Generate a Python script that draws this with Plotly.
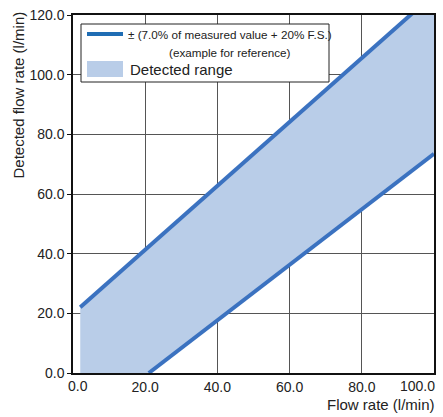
import plotly.graph_objects as go

# Values
upper_x = [2.0, 100.0]
upper_y = [22.0, 127.0]
lower_x = [21.0, 100.0]
lower_y = [0.0, 73.5]
x_ticks = [0, 20, 40, 60, 80, 100]
x_ticklabels = ["0.0", "20.0", "40.0", "60.0", "80.0", "100.0"]
y_ticks = [0, 20, 40, 60, 80, 100, 120]
y_ticklabels = ["0.0", "20.0", "40.0", "60.0", "80.0", "100.0", "120.0"]
legend_line_text = "± (7.0% of measured value + 20% F.S.)"
legend_note_text = "(example for reference)"
legend_fill_text = "Detected range"

fill_color = "#b9cde8"
line_color = "#3b72c0"
legend_line_color = "#1f6db4"

W, H = 443, 417
ML, MR, MT, MB = 73, 9, 15, 44
PW, PH = W - ML - MR, H - MT - MB


def px(x):  # pixel x -> paper x
    return (x - ML) / PW


def py(y):  # pixel y -> paper y
    return (H - MB - y) / PH


# polygon of the detected range, built from the two boundary lines
poly_x = [upper_x[0], upper_x[0]] + lower_x + upper_x[::-1]
poly_y = [upper_y[0], lower_y[0]] + lower_y + upper_y[::-1]

fig = go.Figure()
fig.add_trace(go.Scatter(x=poly_x, y=poly_y, fill="toself", fillcolor=fill_color,
                         mode="none", name=legend_fill_text, showlegend=False))
fig.add_trace(go.Scatter(x=upper_x, y=upper_y, mode="lines",
                         line=dict(color=line_color, width=4), showlegend=False))
fig.add_trace(go.Scatter(x=lower_x, y=lower_y, mode="lines",
                         line=dict(color=line_color, width=4), showlegend=False))

narrow = "Liberation Sans Narrow, Liberation Sans, Arial, sans-serif"

shapes = [
    # legend box
    dict(type="rect", xref="paper", yref="paper", x0=px(81), x1=px(329), y0=py(82), y1=py(24),
         fillcolor="white", line=dict(color="#222", width=1), layer="above"),
    # legend line symbol
    dict(type="line", xref="paper", yref="paper", x0=px(87), x1=px(123), y0=py(34), y1=py(34),
         line=dict(color=legend_line_color, width=4), layer="above"),
    # legend fill symbol
    dict(type="rect", xref="paper", yref="paper", x0=px(87), x1=px(123), y0=py(77), y1=py(61),
         fillcolor=fill_color, line=dict(width=0), layer="above"),
]

# x tick labels: inner ones by the axis, the two edge ones nudged inward as in the reference
inner_ticktext = [t if 0 < v < 100 else "" for v, t in zip(x_ticks, x_ticklabels)]

annotations = [
    dict(text=x_ticklabels[0], xref="x", yref="paper", x=x_ticks[0], y=py(386.5),
         xanchor="center", yanchor="middle", xshift=4.5, showarrow=False,
         font=dict(size=14, color="#222")),
    dict(text=x_ticklabels[-1], xref="x", yref="paper", x=x_ticks[-1], y=py(386.5),
         xanchor="right", yanchor="middle", xshift=3, showarrow=False,
         font=dict(size=14, color="#222")),
    dict(text=legend_line_text, xref="paper", yref="paper", x=px(126), y=py(34),
         xanchor="left", yanchor="middle", showarrow=False,
         font=dict(family=narrow, size=11.7, color="#222")),
    dict(text=legend_note_text, xref="paper", yref="paper", x=px(167), y=py(52),
         xanchor="left", yanchor="middle", showarrow=False,
         font=dict(family=narrow, size=11.7, color="#222")),
    dict(text=legend_fill_text, xref="paper", yref="paper", x=px(128), y=py(69),
         xanchor="left", yanchor="middle", showarrow=False,
         font=dict(size=15, color="#222")),
    dict(text="Flow rate (l/min)", xref="paper", yref="paper",
         x=px(437), y=py(405), xanchor="right", yanchor="middle",
         showarrow=False, font=dict(size=15, color="#222")),
    dict(text="Detected flow rate (l/min)", xref="paper", yref="paper",
         x=px(18), y=py(10), xanchor="center", yanchor="top", textangle=-90,
         showarrow=False, font=dict(size=15, color="#222")),
]

fig.update_layout(
    width=W, height=H,
    margin=dict(l=ML, r=MR, t=MT, b=MB, autoexpand=False),
    paper_bgcolor="white", plot_bgcolor="white",
    font=dict(family="Liberation Sans, Arial, sans-serif", size=14, color="#222"),
    showlegend=False,
    xaxis=dict(range=[0, 100], tickvals=x_ticks, ticktext=inner_ticktext,
               showgrid=True, gridcolor="#555", gridwidth=1,
               showline=True, linecolor="#111", linewidth=1.5, mirror=True,
               ticks="", zeroline=False, automargin=False),
    yaxis=dict(range=[0, 120], tickvals=y_ticks, ticktext=y_ticklabels,
               showgrid=True, gridcolor="#555", gridwidth=1,
               showline=True, linecolor="#111", linewidth=1.5, mirror=True,
               ticks="outside", ticklen=4, tickcolor="#111", zeroline=False,
               ticklabeloverflow="allow", automargin=False),
    shapes=shapes,
    annotations=annotations,
)

fig.write_html("out.html", config={"displayModeBar": False},
               post_script="document.body.style.margin='0';")
